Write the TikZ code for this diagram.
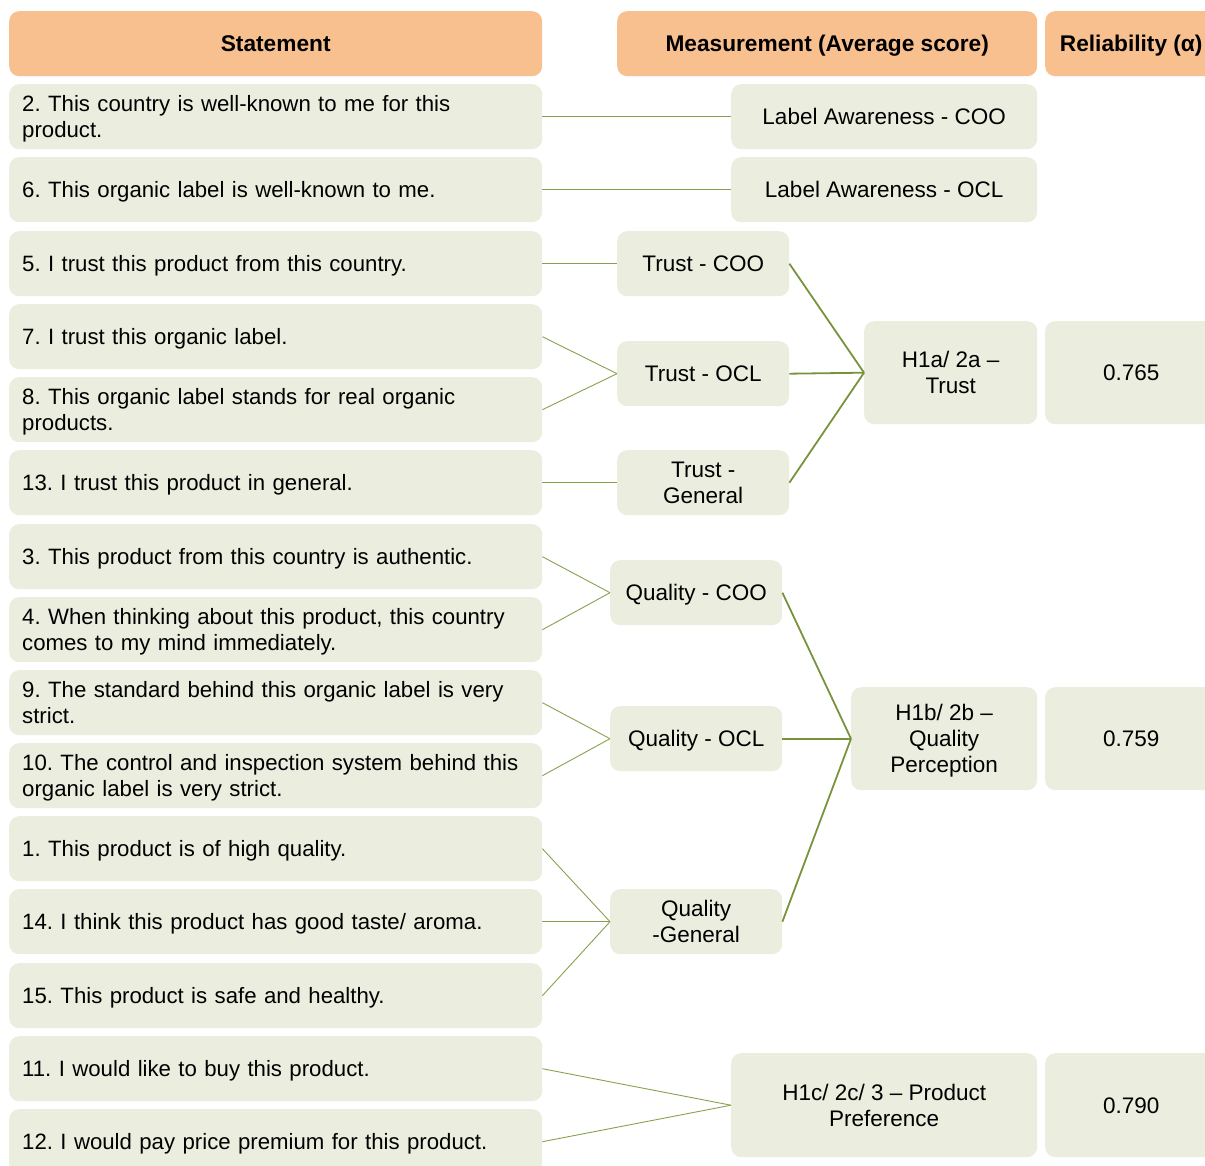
\documentclass[tikz,border=0pt]{standalone}
\usepackage{fontspec}
\setmainfont{Liberation Sans}
\definecolor{boxfill}{HTML}{EBEEDE}
\definecolor{hdrfill}{HTML}{F9C08F}
\definecolor{linegreen}{HTML}{77933C}
\definecolor{thingreen}{HTML}{87A24E}
\newcommand{\sL}{\rule[-5pt]{0pt}{26pt}}
\frenchspacing
\begin{document}
\begin{tikzpicture}[x=1pt,y=-1pt]
\tikzset{
 box/.style={rectangle, rounded corners=10pt, fill=boxfill, inner sep=0pt, anchor=north west, font=\fontsize{22.5}{26}\selectfont},
 stmt/.style={box, minimum width=533pt, minimum height=65pt, align=left, text width=507pt, font=\fontsize{22.2}{26}\selectfont},
 hdr/.style={box, fill=hdrfill, minimum height=65pt, font=\bfseries\fontsize{22.7}{26}\selectfont, align=center},
 meas/.style={box, align=center},
 thinline/.style={draw=thingreen, line width=0.9pt},
 thickline/.style={draw=linegreen, line width=1.8pt},
}
\useasboundingbox (0,0) rectangle (1205,1166);
\clip (0,0) rectangle (1205,1166);
% headers
\node[hdr, minimum width=533pt] (h1) at (9,11) {\sL Statement};
\node[hdr, minimum width=420pt] (h2) at (617,11) {\sL Measurement (Average score)};
\node[hdr, minimum width=172pt] (h3) at (1045,11) {\sL Reliability (α)};
% statements
\node[stmt] (s2) at (9,84) {\sL 2. This country is well-known to me for this\\\sL product.};
\node[stmt] (s6) at (9,157) {\sL 6. This organic label is well-known to me.};
\node[stmt] (s5) at (9,231) {\sL 5. I trust this product from this country.};
\node[stmt] (s7) at (9,304) {\sL 7. I trust this organic label.};
\node[stmt] (s8) at (9,377) {\sL 8. This organic label stands for real organic\\\sL products.};
\node[stmt] (s13) at (9,450) {\sL 13. I trust this product in general.};
\node[stmt] (s3) at (9,524) {\sL 3. This product from this country is authentic.};
\node[stmt] (s4) at (9,597) {\sL 4. When thinking about this product, this country\\\sL comes to my mind immediately.};
\node[stmt] (s9) at (9,670) {\sL 9. The standard behind this organic label is very\\\sL strict.};
\node[stmt] (s10) at (9,743) {\sL 10. The control and inspection system behind this\\\sL organic label is very strict.};
\node[stmt] (s1) at (9,816) {\sL 1. This product is of high quality.};
\node[stmt] (s14) at (9,889) {\sL 14. I think this product has good taste/ aroma.};
\node[stmt] (s15) at (9,963) {\sL 15. This product is safe and healthy.};
\node[stmt] (s11) at (9,1036) {\sL 11. I would like to buy this product.};
\node[stmt] (s12) at (9,1109) {\sL 12. I would pay price premium for this product.};
% measurements
\node[meas, minimum width=306pt, minimum height=65pt] (lacoo) at (731,84) {\sL Label Awareness - COO};
\node[meas, minimum width=306pt, minimum height=65pt] (laocl) at (731,157) {\sL Label Awareness - OCL};
\node[meas, minimum width=172pt, minimum height=65pt] (tcoo) at (617,231) {\sL Trust - COO};
\node[meas, minimum width=172pt, minimum height=65pt] (tocl) at (617,341) {\sL Trust - OCL};
\node[meas, minimum width=172pt, minimum height=65pt] (tgen) at (617,450) {\sL Trust -\\\sL General};
\node[meas, minimum width=173pt, minimum height=103pt] (ht) at (864,321) {\sL H1a/ 2a –\\\sL Trust};
\node[meas, minimum width=172pt, minimum height=103pt] (rt) at (1045,321) {\sL 0.765};
\node[meas, minimum width=172pt, minimum height=65pt] (qcoo) at (610,560) {\sL Quality - COO};
\node[meas, minimum width=172pt, minimum height=65pt] (qocl) at (610,706) {\sL Quality - OCL};
\node[meas, minimum width=172pt, minimum height=65pt] (qgen) at (610,889) {\sL Quality\\\sL -General};
\node[meas, minimum width=186pt, minimum height=103pt] (hq) at (851,687) {\sL H1b/ 2b –\\\sL Quality\\\sL Perception};
\node[meas, minimum width=172pt, minimum height=103pt] (rq) at (1045,687) {\sL 0.759};
\node[meas, minimum width=306pt, minimum height=104pt] (hp) at (731,1053) {\sL H1c/ 2c/ 3 – Product\\\sL Preference};
\node[meas, minimum width=172pt, minimum height=104pt] (rp) at (1045,1053) {\sL 0.790};
% connectors statements -> measurements
\draw[thinline] (s2.east) -- (lacoo.west);
\draw[thinline] (s6.east) -- (laocl.west);
\draw[thinline] (s5.east) -- (tcoo.west);
\draw[thinline] (s7.east) -- (tocl.west);
\draw[thinline] (s8.east) -- (tocl.west);
\draw[thinline] (s13.east) -- (tgen.west);
\draw[thinline] (s3.east) -- (qcoo.west);
\draw[thinline] (s4.east) -- (qcoo.west);
\draw[thinline] (s9.east) -- (qocl.west);
\draw[thinline] (s10.east) -- (qocl.west);
\draw[thinline] (s1.east) -- (qgen.west);
\draw[thinline] (s14.east) -- (qgen.west);
\draw[thinline] (s15.east) -- (qgen.west);
\draw[thinline] (s11.east) -- (hp.west);
\draw[thinline] (s12.east) -- (hp.west);
% measurements -> hypotheses
\draw[thickline] (tcoo.east) -- (ht.west);
\draw[thickline] (tocl.east) -- (ht.west);
\draw[thickline] (tgen.east) -- (ht.west);
\draw[thickline] (qcoo.east) -- (hq.west);
\draw[thickline] (qocl.east) -- (hq.west);
\draw[thickline] (qgen.east) -- (hq.west);
\end{tikzpicture}
\end{document}
